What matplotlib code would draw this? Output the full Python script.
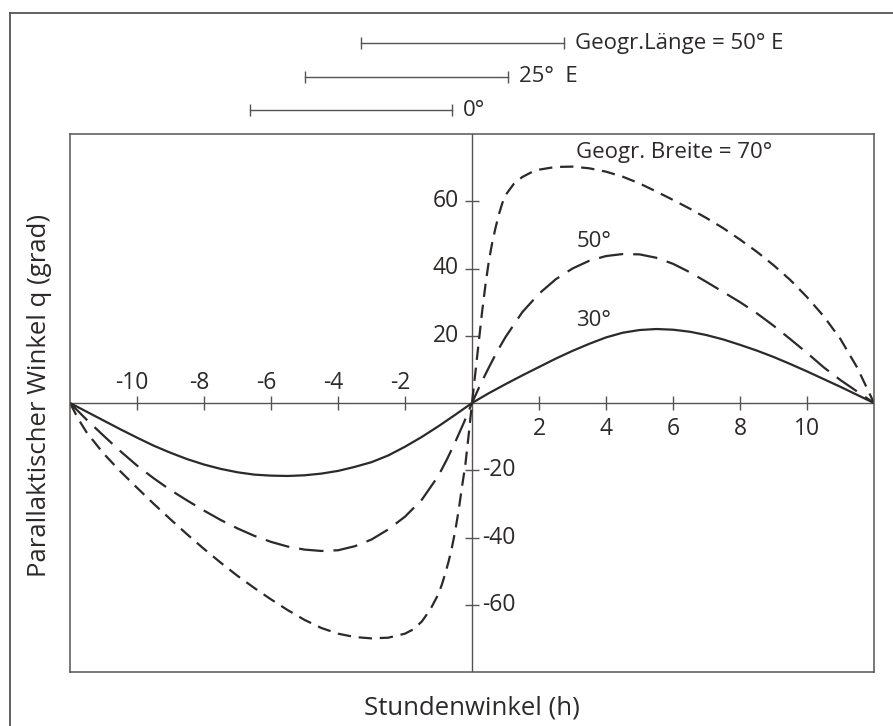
import numpy as np
import matplotlib.pyplot as plt
from matplotlib.lines import Line2D

plt.rcParams['font.family'] = ['Open Sans', 'DejaVu Sans']

# hour angle (h) and parallactic angle q (deg)
h30 = [-12, -11.5, -11, -10.5, -10, -9.5, -9, -8.5, -8, -7.5, -7, -6.5, -6, -5.5, -5, -4.5, -4,
       -3.5, -3, -2.5, -2, -1.5, -1, -0.5, 0,
       0.5, 1, 1.5, 2, 2.5, 3, 3.5, 4, 4.5, 5, 5.5, 6, 6.5, 7, 7.5, 8, 8.5, 9, 9.5, 10,
       10.5, 11, 11.5, 12]
q30 = [0, -2.6, -5.2, -7.8, -10.3, -12.7, -14.8, -16.7, -18.3, -19.6, -20.6, -21.3, -21.6, -21.7, -21.5,
       -21.0, -20.2, -19.0, -17.6, -15.6, -13.0, -10.1, -6.9, -3.5, 0,
       2.9, 5.6, 8.2, 10.7, 13.2, 15.5, 17.6, 19.5, 20.9, 21.7, 22.0, 21.8, 21.2, 20.2, 18.9, 17.3,
       15.6, 13.7, 11.6, 9.4, 7.1, 4.8, 2.4, 0]

h50 = [-12, -11.5, -11, -10.5, -10, -9.5, -9, -8.5, -8, -7.5, -7, -6.5, -6, -5.5, -5, -4.5, -4,
       -3.5, -3, -2.5, -2, -1.5, -1, -0.75, -0.5, -0.25, 0,
       0.25, 0.5, 0.75, 1, 1.5, 2, 2.5, 3, 3.5, 4, 4.5, 5, 5.5, 6, 6.5, 7, 7.5, 8, 8.5, 9, 9.5, 10,
       10.5, 11, 11.5, 12]
q50 = [0, -5.0, -9.7, -14.3, -18.6, -22.4, -25.9, -29.0, -32.0, -34.8, -37.3, -39.5, -41.3, -42.7,
       -43.6, -44.0, -43.8, -42.6, -40.6, -37.6, -33.8, -28.8, -21.6, -16.8, -11.6, -6.0, 0,
       5.5, 10.5, 15.3, 19.6, 27.0, 32.5, 36.8, 40.0, 42.3, 43.7, 44.3, 44.2, 43.2, 41.4, 38.9, 36.0,
       33.0, 30.0, 26.7, 23.0, 19.0, 14.9, 10.6, 6.8, 3.4, 0]

h70 = [-12, -11.75, -11.5, -11, -10.5, -10, -9.5, -9, -8.5, -8, -7.5, -7, -6.5, -6, -5.5, -5, -4.5,
       -4, -3.5, -3, -2.5, -2, -1.75, -1.5, -1.25, -1, -0.9, -0.8, -0.7, -0.6, -0.5, -0.4, -0.3,
       -0.2, -0.1, 0,
       0.1, 0.2, 0.3, 0.4, 0.5, 0.6, 0.7, 0.8, 0.9, 1, 1.25, 1.5, 1.75, 2, 2.5, 3, 3.5, 4, 4.5, 5,
       5.5, 6, 6.5, 7, 7.5, 8, 8.5, 9, 9.5, 10, 10.5, 11, 11.5, 12]
q70 = [0, -4.8, -8.8, -15.0, -20.3, -25.2, -30.0, -34.6, -39.1, -43.4, -47.5, -51.4, -55.0, -58.4,
       -61.6, -64.5, -66.9, -68.6, -69.6, -70.0, -69.8, -68.6, -67.3, -65.0, -61.5, -56.8, -54.0,
       -50.8, -47.2, -43.0, -38.0, -32.0, -25.0, -18.5, -9.5, 0,
       9.0, 18.0, 27.0, 35.0, 42.0, 47.5, 52.0, 56.0, 59.3, 61.8, 65.2, 67.2, 68.5, 69.4, 70.2, 70.3,
       69.8, 68.8, 67.3, 65.3, 62.9, 60.4, 57.8, 55.0, 52.0, 48.6, 45.0, 41.0, 36.6, 31.5, 25.8,
       19.0, 10.5, 0]

curve_labels = ['30°', '50°', 'Geogr. Breite = 70°']
label_q = [24.6, 48.0, 74.5]

# hour-angle ranges for the three longitudes
lon_labels = ['0°', '25°  E', 'Geogr.Länge = 50° E']
bar_start = [-6.63, -4.99, -3.32]
bar_end = [-0.59, 1.08, 2.74]

xticks = [-10, -8, -6, -4, -2, 2, 4, 6, 8, 10]
yticks = [-60, -40, -20, 20, 40, 60]

ink = '#2d2929'
frame = '#575353'

fig = plt.figure(figsize=(8.93, 7.26), dpi=100)
ax = fig.add_axes([70/893, 1-672/726, 804/893, 538/726])
ax.set_xlim(-12, 12)
ax.set_ylim(-80, 80)
ax.set_xticks([])
ax.set_yticks([])
for s in ax.spines.values():
    s.set_color(frame)
    s.set_linewidth(1.1)

ax.axhline(0, color=frame, lw=1.0)
ax.axvline(0, color=frame, lw=1.0)

ax.plot(xticks, [0]*len(xticks), ls='none', marker='|', ms=9.5, mew=1.0, color=frame)
ax.plot([0]*len(yticks), yticks, ls='none', marker='_', ms=9.5, mew=1.0, color=frame)

for v in xticks:
    if v < 0:
        ax.annotate(str(v), (v, 0), xytext=(-5, 20), textcoords='offset pixels',
                    ha='center', va='center', fontsize=16.5, color=ink)
    else:
        ax.annotate(str(v), (v, 0), xytext=(0, -26), textcoords='offset pixels',
                    ha='center', va='center', fontsize=16.5, color=ink)
for v in yticks:
    if v > 0:
        ax.annotate(str(v), (0, v), xytext=(-13, 0), textcoords='offset pixels',
                    ha='right', va='center', fontsize=16.5, color=ink)
    else:
        ax.annotate(str(v), (0, v), xytext=(10, 0), textcoords='offset pixels',
                    ha='left', va='center', fontsize=16.5, color=ink)

ax.plot(h30, q30, color=ink, lw=1.6)
ax.plot(h50, q50, color=ink, lw=1.6, ls=(0, (11, 4.5)))
ax.plot(h70, q70, color=ink, lw=1.6, ls=(0, (6, 3.5)))

for lab, q in zip(curve_labels, label_q):
    ax.text(3.11, q, lab, ha='left', va='center', fontsize=16, color=ink)

bar_rows = [87, 97, 107]
for a, b, yy, lab in zip(bar_start, bar_end, bar_rows, lon_labels):
    ax.plot([a, b], [yy, yy], color=frame, lw=1.0, clip_on=False)
    ax.plot([a, b], [yy, yy], ls='none', marker='|', ms=9, mew=1.0, color=frame, clip_on=False)
    ax.annotate(lab, (b, yy), xytext=(11, 0), textcoords='offset pixels',
                ha='left', va='center', fontsize=16, color=ink, annotation_clip=False)

fig.text(40/893, 1-395/726, 'Parallaktischer Winkel q (grad)', rotation=90,
         ha='center', va='center', fontsize=18.5, color=ink)
fig.text(472/893, 1-708/726, 'Stundenwinkel (h)', ha='center', va='center', fontsize=18.5, color=ink)

# outer frame (only top and left edges are visible)
fig.add_artist(Line2D([10/893, 1], [1-13/726, 1-13/726], color=frame, lw=1.3))
fig.add_artist(Line2D([10/893, 10/893], [0, 1-13/726], color=frame, lw=1.3))

fig.savefig('out.png', dpi=100)
